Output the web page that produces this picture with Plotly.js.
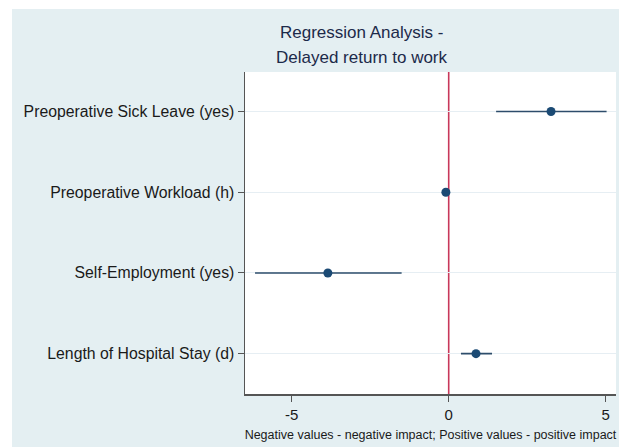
<!DOCTYPE html>
<html>
<head>
<meta charset="utf-8">
<script src="https://cdn.plot.ly/plotly-3.0.1.min.js"></script>
<style>
html, body { margin:0; padding:0; background:#ffffff; overflow:hidden; }
#chart { position:absolute; left:12px; top:9px; width:607px; height:438px; }
</style>
</head>
<body>
<div id="chart"></div>
<script>
// Data
const categories = ["Preoperative Sick Leave (yes)", "Preoperative Workload (h)", "Self-Employment (yes)", "Length of Hospital Stay (d)"];
const positions = [4, 3, 2, 1];
const estimates = [3.26, -0.09, -3.85, 0.87];
const ciLower = [1.51, -0.12, -6.17, 0.39];
const ciUpper = [5.03, -0.06, -1.50, 1.38];
const xTicks = [-5, 0, 5];
const xTickLabels = ["-5", "0", "5"];
const titleLines = ["Regression Analysis -", "Delayed return to work"];
const xTitleText = "Negative values - negative impact; Positive values - positive impact";

const errPlus = estimates.map((v, i) => ciUpper[i] - v);
const errMinus = estimates.map((v, i) => v - ciLower[i]);

const trace = {
  type: "scatter",
  mode: "markers",
  x: estimates,
  y: positions,
  marker: { color: "#1b4a74", size: 9 },
  error_x: {
    type: "data",
    symmetric: false,
    array: errPlus,
    arrayminus: errMinus,
    color: "#2d4d6b",
    thickness: 1.6,
    width: 0
  },
  hoverinfo: "skip",
  showlegend: false,
  cliponaxis: false
};

const titleFont = { size: 17, color: "#1c2a4a", family: "Liberation Sans, Arial, sans-serif" };
const titleY = [1.124, 1.0435];

const layout = {
  width: 607,
  height: 438,
  paper_bgcolor: "#e4eff2",
  plot_bgcolor: "#ffffff",
  margin: { l: 233, r: 3, t: 63, b: 53 },
  font: { family: "Liberation Sans, Arial, sans-serif", color: "#1a1a1a" },
  annotations: titleLines.map((t, i) => ({
    text: t,
    xref: "paper",
    yref: "paper",
    x: 0.315,
    y: titleY[i],
    xanchor: "center",
    yanchor: "middle",
    showarrow: false,
    font: titleFont
  })),
  xaxis: {
    range: [-6.49, 5.33],
    tickvals: xTicks,
    ticktext: xTickLabels,
    tickfont: { size: 15, color: "#1a1a1a" },
    ticks: "outside",
    ticklen: 6,
    tickcolor: "#555555",
    showgrid: false,
    zeroline: false,
    showline: true,
    linecolor: "#555555",
    linewidth: 1.5,
    title: { text: xTitleText, font: { size: 12.5, color: "#1a1a1a" }, standoff: 8 }
  },
  yaxis: {
    range: [0.5, 4.49],
    tickvals: positions,
    ticktext: categories,
    tickfont: { size: 15.8, color: "#1a1a1a" },
    ticks: "outside",
    ticklen: 6,
    tickcolor: "#555555",
    showgrid: true,
    gridcolor: "#e6eef3",
    gridwidth: 1,
    zeroline: false,
    showline: true,
    linecolor: "#555555",
    linewidth: 1.5
  },
  shapes: [{
    type: "line",
    xref: "x",
    yref: "paper",
    x0: 0, x1: 0, y0: 0, y1: 1,
    line: { color: "#c8385a", width: 1.6 },
    layer: "below"
  }]
};

Plotly.newPlot("chart", [trace], layout, { displayModeBar: false, staticPlot: true });
</script>
</body>
</html>
